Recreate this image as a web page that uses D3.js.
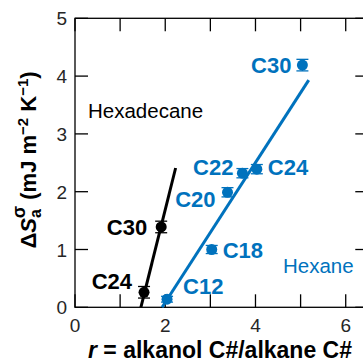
<!DOCTYPE html>
<html>
<head>
<meta charset="utf-8">
<script src="https://cdn.jsdelivr.net/npm/d3@7"></script>
<style>
  body { margin: 0; background: #fff; }
  text { font-family: "Liberation Sans", Arial, sans-serif; }
</style>
</head>
<body>
<div id="chart"></div>
<script>
const hexadecaneLabels = ["C24", "C30"];
const hexadecaneR = [1.53, 1.91];
const hexadecaneS = [0.26, 1.39];
const hexadecaneErr = [0.1, 0.1];
const hexadecaneFitR = [1.46, 2.23];
const hexadecaneFitS = [0, 2.41];

const hexaneLabels = ["C12", "C18", "C20", "C22", "C24", "C30"];
const hexaneR = [2.04, 3.03, 3.38, 3.71, 4.03, 5.04];
const hexaneS = [0.14, 1.0, 1.99, 2.32, 2.39, 4.19];
const hexaneErr = [0.05, 0.07, 0.08, 0.08, 0.08, 0.1];
const hexaneFitR = [1.93, 5.18];
const hexaneFitS = [0, 3.93];

const xTicks = [0, 1, 2, 3, 4, 5, 6];
const xTickLabels = ["0", "", "2", "", "4", "", "6"];
const yTicks = [0, 1, 2, 3, 4, 5];

// label offsets (px) relative to each point
const hexadecaneLabelPos = [
  { dx: -12, dy: -3, anchor: "end" },
  { dx: -14, dy: 8, anchor: "end" }
];
const hexaneLabelPos = [
  { dx: 16, dy: -5, anchor: "start" },
  { dx: 11, dy: 8, anchor: "start" },
  { dx: -12, dy: 15, anchor: "end" },
  { dx: -9, dy: 2, anchor: "end" },
  { dx: 11, dy: 6, anchor: "start" },
  { dx: -11, dy: 8, anchor: "end" }
];

const W = 363, H = 362;
const blue = "#0072BD", black = "#000", axisColor = "#262626";

const svg = d3.select("#chart").append("svg")
  .attr("width", W).attr("height", H);

const x = d3.scaleLinear().domain([0, 6.5]).range([75, 75 + 6.5 * 45.12]);
const y = d3.scaleLinear().domain([0, 5]).range([307.3, 18.3]);

const plot = svg.append("g");
const tickLen = 13;

// frame
plot.append("rect")
  .attr("x", x(0)).attr("y", y(5))
  .attr("width", x(6.5) - x(0)).attr("height", y(0) - y(5))
  .attr("fill", "none").attr("stroke", black).attr("stroke-width", 1.3);

// x ticks (bottom + top, inward)
xTicks.forEach((t, i) => {
  plot.append("line").attr("x1", x(t)).attr("x2", x(t))
    .attr("y1", y(0)).attr("y2", y(0) - tickLen)
    .attr("stroke", black).attr("stroke-width", 1.3);
  plot.append("line").attr("x1", x(t)).attr("x2", x(t))
    .attr("y1", y(5)).attr("y2", y(5) + tickLen)
    .attr("stroke", black).attr("stroke-width", 1.3);
  if (xTickLabels[i]) {
    plot.append("text").attr("x", x(t)).attr("y", 331.5)
      .attr("text-anchor", "middle").attr("font-size", 19)
      .attr("fill", axisColor).text(xTickLabels[i]);
  }
});

// y ticks (left + right, inward)
yTicks.forEach(t => {
  plot.append("line").attr("x1", x(0)).attr("x2", x(0) + tickLen)
    .attr("y1", y(t)).attr("y2", y(t))
    .attr("stroke", black).attr("stroke-width", 1.3);
  plot.append("line").attr("x1", x(6.5)).attr("x2", x(6.5) - tickLen)
    .attr("y1", y(t)).attr("y2", y(t))
    .attr("stroke", black).attr("stroke-width", 1.3);
  plot.append("text").attr("x", 67).attr("y", y(t) + 7)
    .attr("text-anchor", "end").attr("font-size", 19)
    .attr("fill", axisColor).text(t);
});

function drawSeries(rs, ss, errs, fitR, fitS, labels, pos, color) {
  const line = d3.line().x(d => x(d[0])).y(d => y(d[1]));
  plot.append("path")
    .attr("d", line(fitR.map((r, i) => [r, fitS[i]])))
    .attr("stroke", color).attr("stroke-width", 3).attr("fill", "none");

  rs.forEach((r, i) => {
    const cx = x(r), cy = y(ss[i]);
    const e0 = y(ss[i] - errs[i]), e1 = y(ss[i] + errs[i]);
    plot.append("line").attr("x1", cx).attr("x2", cx).attr("y1", e0).attr("y2", e1)
      .attr("stroke", color).attr("stroke-width", 1.3);
    [e0, e1].forEach(ey => plot.append("line")
      .attr("x1", cx - 6).attr("x2", cx + 6).attr("y1", ey).attr("y2", ey)
      .attr("stroke", color).attr("stroke-width", 1.3));
    plot.append("circle").attr("cx", cx).attr("cy", cy).attr("r", 5.5).attr("fill", color);
    plot.append("text")
      .attr("x", cx + pos[i].dx).attr("y", cy + pos[i].dy)
      .attr("text-anchor", pos[i].anchor)
      .attr("font-size", 22).attr("font-weight", "bold")
      .attr("fill", color).text(labels[i]);
  });
}

drawSeries(hexadecaneR, hexadecaneS, hexadecaneErr, hexadecaneFitR, hexadecaneFitS,
  hexadecaneLabels, hexadecaneLabelPos, black);
drawSeries(hexaneR, hexaneS, hexaneErr, hexaneFitR, hexaneFitS,
  hexaneLabels, hexaneLabelPos, blue);

// series names
plot.append("text").attr("x", 88).attr("y", 118)
  .attr("font-size", 20.5).attr("fill", black).text("Hexadecane");
plot.append("text").attr("x", 283).attr("y", 273)
  .attr("font-size", 20.5).attr("fill", blue).text("Hexane");

// x axis label
const xl = svg.append("text").attr("x", 220).attr("y", 358)
  .attr("text-anchor", "middle").attr("font-size", 23).attr("font-weight", "bold")
  .attr("fill", black);
xl.append("tspan").attr("font-style", "italic").text("r");
xl.append("tspan").text(" = alkanol C#/alkane C#");

// y axis label
const yl = svg.append("text")
  .attr("transform", "translate(36,160) rotate(-90)")
  .attr("text-anchor", "middle").attr("font-size", 22).attr("font-weight", "bold")
  .attr("fill", black);
yl.append("tspan").text("Δ");
yl.append("tspan").attr("font-style", "italic").text("S");
yl.append("tspan").attr("font-size", 16).attr("dy", 5).text("a");
yl.append("tspan").attr("font-size", 18).attr("dx", -9).attr("dy", -16).text("σ");
yl.append("tspan").attr("dy", 11).text(" (mJ m");
yl.append("tspan").attr("font-size", 15).attr("dy", -8).text("−2");
yl.append("tspan").attr("dy", 8).text(" K");
yl.append("tspan").attr("font-size", 15).attr("dy", -8).text("−1");
yl.append("tspan").attr("dy", 8).text(")");
</script>
</body>
</html>
